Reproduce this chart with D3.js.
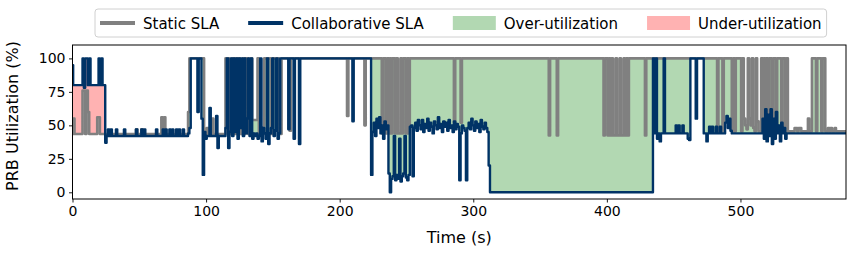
<!DOCTYPE html>
<html>
<head>
<meta charset="utf-8">
<script src="https://cdn.jsdelivr.net/npm/d3@7"></script>
<style>
body { margin: 0; background: #fff; }
text { font-family: "DejaVu Sans", sans-serif; fill: #000; }
</style>
</head>
<body>
<svg class="chart"></svg>
<script>
// one sample per second, t = 0 .. 579
var staticSla = [
  43.5,55,43.5,43.5,43.5,43.5,43.5,43.5,76,76, 43.5,76,60,43.5,43.5,43.5,43.5,43.5,43.5,56,
  56,43.5,43.5,43.5,43.5,43.5,43.5,43.5,43.5,43.5, 43.5,43.5,43.5,43.5,43.5,43.5,43.5,43.5,43.5,43.5,
  43.5,43.5,43.5,43.5,43.5,43.5,43.5,43.5,47,43.5, 43.5,43.5,47,43.5,43.5,43.5,43.5,43.5,43.5,43.5,
  43.5,43.5,43.5,43.5,43.5,43.5,43.5,56,43.5,56, 43.5,43.5,43.5,43.5,43.5,43.5,43.5,43.5,43.5,43.5,
  43.5,43.5,43.5,43.5,43.5,43.5,43.5,60,100,100, 100,100,100,100,100,100,100,100,100,43.5,
  43.5,48,48,43.5,43.5,55,43.5,43.5,43.5,43.5, 43.5,43.5,43.5,43.5,43.5,100,100,100,43.5,43.5,
  100,100,43.5,100,100,100,43.5,43.5,100,43.5, 100,100,43.5,43.5,100,54,54,54,54,100,
  43.5,43.5,43.5,43.5,100,100,100,100,100,43.5, 100,100,100,100,100,43.5,43.5,100,100,100,
  100,100,100,46,100,100,100,100,100,100, 100,100,100,100,100,100,100,100,100,100,
  100,100,100,100,100,100,100,100,100,100, 100,100,100,100,100,100,100,100,100,100,
  100,100,100,100,100,100,57,100,100,100, 100,100,100,100,100,100,100,100,100,50,
  100,100,100,100,100,100,100,100,100,100, 100,100,44,100,100,44,100,44,100,44,
  100,100,44,100,44,44,100,44,100,100, 44,100,44,100,100,100,100,100,100,100,
  100,100,100,100,100,100,100,100,100,100, 100,100,100,100,100,100,100,100,100,100,
  100,100,100,100,100,100,52,100,100,100, 100,52,100,100,100,100,100,100,100,100,
  100,100,100,100,100,100,100,100,100,100, 100,100,100,100,100,100,100,100,100,100,
  100,100,100,100,100,100,100,100,100,100, 100,100,100,100,100,100,100,100,100,100,
  100,100,100,100,100,100,100,100,100,100, 100,100,100,100,100,100,100,42.5,100,100,
  100,100,100,42.5,100,100,100,100,100,100, 100,100,100,100,100,100,100,100,100,100,
  100,100,100,100,100,100,100,100,100,100, 100,100,100,100,100,100,100,100,42.5,100,
  100,42.5,100,42.5,100,42.5,42.5,100,42.5,42.5, 100,42.5,42.5,100,42.5,100,42.5,100,100,100,
  100,100,100,100,100,100,100,100,100,42.5, 100,100,100,100,100,100,100,100,100,100,
  100,100,100,100,100,100,100,100,100,100, 100,100,100,100,100,100,100,100,100,100,
  100,100,100,100,100,100,100,100,100,100, 100,100,100,100,100,100,100,100,100,100,
  100,100,100,45.5,100,100,100,45.5,100,100, 100,100,100,100,45.5,100,45.5,100,100,100,
  100,45.5,100,55,50,47,100,55,50,100, 48,45.5,100,53,45.5,45.5,100,45.5,100,45.5,
  100,45.5,100,100,45.5,100,100,45.5,100,100, 100,45.5,100,100,45.5,100,45.5,45.5,45.5,45.5,
  45.5,48,48,45.5,48,48,45.5,45.5,45.5,45.5, 45.5,55,45.5,45.5,100,100,100,45.5,100,100,
  100,45.5,100,100,45.5,45.5,48,45.5,48,45.5, 45.5,48,45.5,45.5,45.5,45.5,45.5,45.5,45.5,45.5
];

var collabSla = [
  95,80,80,80,80,80,80,80,100,78, 100,100,80,100,80,80,80,80,80,80,
  100,80,100,80,80,37,42,47,42,47, 42,42,42,47,42,42,42,42,42,47,
  42,42,42,42,42,42,42,42,47,42, 42,42,47,42,47,42,42,42,42,42,
  42,42,42,47,42,42,42,42,47,42, 47,42,42,47,42,47,42,42,47,42,
  47,42,42,47,42,42,42,44,48,100, 100,100,100,100,60,100,100,55,13,45,
  40,42,42,63,42,42,42,42,57,33, 42,42,42,42,42,48,100,33,45,100,
  42,100,45,100,40,100,48,100,42,100, 44,55,100,42,100,40,44,42,44,40,
  42,100,38,48,44,40,100,36,44,48, 100,42,46,100,40,44,100,100,100,100,
  100,100,47,100,100,100,40,100,100,100, 36,100,100,100,100,100,100,100,100,100,
  100,100,100,100,100,100,100,100,100,100, 100,100,100,100,100,100,100,100,100,100,
  100,100,100,100,100,100,100,100,100,100, 53,100,100,100,100,100,100,100,100,100,
  100,100,100,100,13,45,52,42,55,48, 56,44,50,40,53,47,50,14,0,10,
  12,42,9,13,10,40,8,12,14,42, 11,9,13,49,50,12,48,52,46,54,
  50,47,54,45,51,48,55,46,52,49, 44,53,50,47,56,48,51,45,53,49,
  52,46,54,48,50,45,53,47,51,49, 9,44,50,48,46,9,48,52,47,55,
  50,46,53,48,51,45,54,49,47,52, 48,45,20,0,0,0,0,0,0,0,
  0,0,0,0,0,0,0,0,0,0, 0,0,0,0,0,0,0,0,0,0,
  0,0,0,0,0,0,0,0,0,0, 0,0,0,0,0,0,0,0,0,0,
  0,0,0,0,0,0,0,0,0,0, 0,0,0,0,0,0,0,0,0,0,
  0,0,0,0,0,0,0,0,0,0, 0,0,0,0,0,0,0,0,0,0,
  0,0,0,0,0,0,0,0,0,0, 0,0,0,0,0,0,0,0,0,0,
  0,0,0,0,0,0,0,0,0,0, 0,0,0,0,0,100,44,100,40,44,
  38,44,44,100,44,44,44,44,44,44, 44,44,50,44,50,44,44,50,44,44,
  44,40,39,100,100,100,100,55,100,100, 100,100,100,44,44,38,44,49,44,49,
  44,44,49,44,44,49,44,44,44,52, 57,48,55,46,44,44,44,44,44,44,
  44,44,44,44,44,44,44,44,44,44, 44,44,44,44,44,44,44,55,40,62,
  38,58,42,62,36,55,40,60,44,50, 38,52,44,48,40,44,44,44,44,44,
  44,44,44,44,44,44,44,44,44,44, 44,44,44,44,44,44,44,44,44,44,
  44,44,44,44,44,44,44,44,44,44, 44,44,44,44,44,44,44,44,44,44
];

var xTicks = [0, 100, 200, 300, 400, 500];
var yTicks = [0, 25, 50, 75, 100];
var xLimit = [0, 579];
var yLimit = [-5, 110];

var legendItems = [
  {label: "Static SLA", kind: "line", color: "#808080"},
  {label: "Collaborative SLA", kind: "line", color: "#003366"},
  {label: "Over-utilization", kind: "patch", color: "#b2d8b2"},
  {label: "Under-utilization", kind: "patch", color: "#ffb2b2"}
];

var margin = {top: 45, right: 11, bottom: 58, left: 72.5},
    width = 857 - margin.left - margin.right,
    height = 257 - margin.top - margin.bottom;

var x = d3.scaleLinear().domain(xLimit).range([0, width]);
var y = d3.scaleLinear().domain(yLimit).range([height, 0]);

var rows = staticSla.map(function(s, i) {
  return {t: i, s: s, c: collabSla[i]};
});

var svg = d3.select(".chart")
    .attr("width", 857)
    .attr("height", 257);

var chart = svg.append("g")
    .attr("transform", "translate(" + margin.left + "," + margin.top + ")");

chart.append("clipPath").attr("id", "plotclip")
  .append("rect").attr("width", width).attr("height", height);

var plot = chart.append("g").attr("clip-path", "url(#plotclip)");

// fills only where the condition holds on consecutive samples (like fill_between where=)
var overArea = d3.area()
    .defined(function(d) { return d.s > d.c; })
    .curve(d3.curveStep)
    .x(function(d) { return x(d.t); })
    .y0(function(d) { return y(d.c); })
    .y1(function(d) { return y(d.s); });

var underArea = d3.area()
    .defined(function(d) { return d.c > d.s; })
    .curve(d3.curveStep)
    .x(function(d) { return x(d.t); })
    .y0(function(d) { return y(d.s); })
    .y1(function(d) { return y(d.c); });

plot.append("path").datum(rows)
    .attr("d", overArea)
    .attr("fill", "#b2d8b2");

plot.append("path").datum(rows)
    .attr("d", underArea)
    .attr("fill", "#ffb2b2");

var staticLine = d3.line()
    .curve(d3.curveStep)
    .x(function(d) { return x(d.t); })
    .y(function(d) { return y(d.s); });

var collabLine = d3.line()
    .curve(d3.curveStep)
    .x(function(d) { return x(d.t); })
    .y(function(d) { return y(d.c); });

plot.append("path").datum(rows)
    .attr("d", staticLine)
    .attr("fill", "none")
    .attr("stroke", "#808080")
    .attr("stroke-width", 2.6)
    .attr("stroke-linejoin", "round");

plot.append("path").datum(rows)
    .attr("d", collabLine)
    .attr("fill", "none")
    .attr("stroke", "#003366")
    .attr("stroke-width", 2.4)
    .attr("stroke-linejoin", "round");

// axes
var xAxis = d3.axisBottom(x).tickValues(xTicks).tickSize(3.5).tickPadding(3.5);
var yAxis = d3.axisLeft(y).tickValues(yTicks).tickSize(3.5).tickPadding(3.5);

var gx = chart.append("g")
    .attr("transform", "translate(0," + height + ")")
    .call(xAxis);
var gy = chart.append("g").call(yAxis);

[gx, gy].forEach(function(g) {
  g.select(".domain").remove();
  g.selectAll("line").attr("stroke", "#000").attr("stroke-width", 0.9);
  g.selectAll("text")
    .style("font-family", "DejaVu Sans")
    .style("font-size", "14px")
    .attr("fill", "#000");
});

chart.append("rect")
    .attr("width", width)
    .attr("height", height)
    .attr("fill", "none")
    .attr("stroke", "#000")
    .attr("stroke-width", 1);

chart.append("text")
    .attr("x", width / 2)
    .attr("y", height + 44)
    .style("text-anchor", "middle")
    .style("font-size", "16px")
    .text("Time (s)");

chart.append("text")
    .attr("transform", "rotate(-90)")
    .attr("x", -height / 2 + 6)
    .attr("y", -55)
    .style("text-anchor", "middle")
    .style("font-size", "16px")
    .text("PRB Utilization (%)");

// legend
var legend = svg.append("g").attr("transform", "translate(95,9)");
var legendBox = legend.append("rect")
    .attr("height", 28)
    .attr("rx", 3)
    .attr("fill", "#fff")
    .attr("stroke", "#d0d0d0")
    .attr("stroke-width", 1);

var cursor = 5;
legendItems.forEach(function(item) {
  if (item.kind == "line") {
    legend.append("line")
      .attr("x1", cursor).attr("x2", cursor + 35)
      .attr("y1", 14).attr("y2", 14)
      .attr("stroke", item.color)
      .attr("stroke-width", 4);
  } else {
    legend.append("rect")
      .attr("x", cursor).attr("y", 7)
      .attr("width", 43).attr("height", 14)
      .attr("fill", item.color);
  }
  var handleW = item.kind == "line" ? 35 : 43;
  var label = legend.append("text")
      .attr("x", cursor + handleW + 8)
      .attr("y", 19.5)
      .style("font-size", "15px")
      .text(item.label);
  cursor = cursor + handleW + 8 + label.node().getComputedTextLength() + 29;
});
legendBox.attr("width", cursor - 29 + 5);
</script>
</body>
</html>
